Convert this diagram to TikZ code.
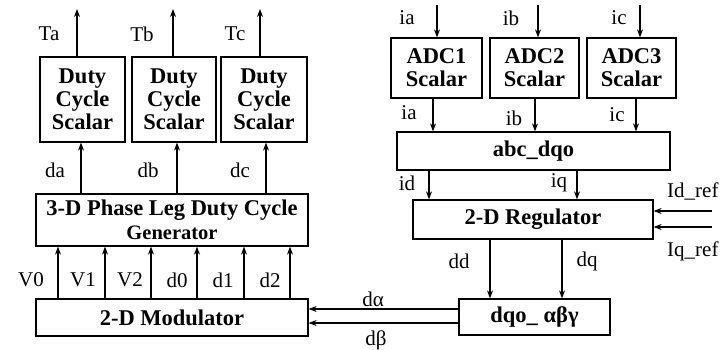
\documentclass[tikz,border=0pt]{standalone}
\usepackage{fontspec}
\setmainfont{Liberation Serif}
\usetikzlibrary{arrows.meta}
\begin{document}
\begin{tikzpicture}[x=1pt,y=-1pt,
  box/.style={draw,line width=1.3pt,inner sep=0pt,align=center,font=\bfseries\fontsize{22.5}{23}\selectfont},
  lbl/.style={font=\fontsize{21}{22}\selectfont,inner sep=0pt},
  arr/.style={line width=1.1pt,-{Stealth[length=8pt,width=6pt]}}]
\useasboundingbox (0,0) rectangle (728,349);
% boxes
\node[box,minimum width=85pt,minimum height=85pt] (d1) at (82.5,99.5) {Duty\\Cycle\\Scalar};
\node[box,minimum width=84pt,minimum height=85pt] (d2) at (174,99.5) {Duty\\Cycle\\Scalar};
\node[box,minimum width=86pt,minimum height=85pt] (d3) at (264,99.5) {Duty\\Cycle\\Scalar};
\node[box,minimum width=272pt,minimum height=52pt] (gen) at (172,220) {3-D Phase Leg Duty Cycle\\[1pt]{\fontsize{20.5}{22}\selectfont Generator}};
\node[box,minimum width=272pt,minimum height=37pt] (mod) at (172,317.5) {2-D Modulator};
\node[box,minimum width=151pt,minimum height=36pt] (dqo) at (534.5,317) {dqo\_ αβγ};
\node[box,minimum width=240pt,minimum height=39pt] (reg) at (533,219.5) {2-D Regulator};
\node[box,minimum width=273pt,minimum height=38pt] (abc) at (533.5,151) {abc\_dqo};
\node[box,minimum width=91pt,minimum height=60pt] (a1) at (436.5,68) {ADC1\\Scalar};
\node[box,minimum width=89pt,minimum height=60pt] (a2) at (534.5,68) {ADC2\\Scalar};
\node[box,minimum width=89pt,minimum height=60pt] (a3) at (631.5,68) {ADC3\\Scalar};
% free ends
\coordinate (ta) at (77,9);
\coordinate (tb) at (173,9);
\coordinate (tc) at (260,9);
\coordinate (iaa) at (437,5);
\coordinate (ibb) at (538,5);
\coordinate (icc) at (640,5);
\coordinate (idr) at (712,211);
\coordinate (iqr) at (712,227);
% outputs T
\draw[arr] (d1.north -| ta) -- (ta);
\draw[arr] (d2.north -| tb) -- (tb);
\draw[arr] (d3.north -| tc) -- (tc);
\node[lbl] at (49,34) {Ta};
\node[lbl] at (142,34) {Tb};
\node[lbl] at (235,34) {Tc};
% gen -> duty
\draw[arr] (gen.north -| 81,0) -- (d1.south -| 81,0);
\draw[arr] (gen.north -| 177,0) -- (d2.south -| 177,0);
\draw[arr] (gen.north -| 266,0) -- (d3.south -| 266,0);
\node[lbl] at (55,170) {da};
\node[lbl] at (148,170) {db};
\node[lbl] at (240,170) {dc};
% mod -> gen
\foreach \x in {58,105,151,197,244,290}{
  \draw[arr] (mod.north -| \x,0) -- (gen.south -| \x,0);
}
\node[lbl] at (31,280) {V0};
\node[lbl] at (83,280) {V1};
\node[lbl] at (130,280) {V2};
\node[lbl] at (177,280) {d0};
\node[lbl] at (223,280) {d1};
\node[lbl] at (270,280) {d2};
% dqo -> mod
\draw[arr] (dqo.west |- 0,309) -- (mod.east |- 0,309);
\draw[arr] (dqo.west |- 0,323) -- (mod.east |- 0,323);
\node[lbl] at (373,299) {dα};
\node[lbl] at (376,340) {dβ};
% reg -> dqo
\draw[arr] (reg.south -| 490,0) -- (dqo.north -| 490,0);
\draw[arr] (reg.south -| 562,0) -- (dqo.north -| 562,0);
\node[lbl] at (459,261) {dd};
\node[lbl] at (587,261) {dq};
% refs
\draw[arr] (idr) -- (reg.east |- idr);
\draw[arr] (iqr) -- (reg.east |- iqr);
\node[lbl,anchor=west] at (667,191) {Id\_ref};
\node[lbl,anchor=west] at (667,251) {Iq\_ref};
% abc -> reg
\draw[arr] (abc.south -| 429,0) -- (reg.north -| 429,0);
\draw[arr] (abc.south -| 577,0) -- (reg.north -| 577,0);
\node[lbl] at (407,183) {id};
\node[lbl] at (559,183) {iq};
% adc inputs
\draw[arr] (iaa) -- (a1.north -| iaa);
\draw[arr] (ibb) -- (a2.north -| ibb);
\draw[arr] (icc) -- (a3.north -| icc);
\node[lbl] at (407,18) {ia};
\node[lbl] at (511,18) {ib};
\node[lbl] at (619,18) {ic};
% adc -> abc
\draw[arr] (a1.south -| 433,0) -- (abc.north -| 433,0);
\draw[arr] (a2.south -| 535,0) -- (abc.north -| 535,0);
\draw[arr] (a3.south -| 636,0) -- (abc.north -| 636,0);
\node[lbl] at (409,113) {ia};
\node[lbl] at (514,118) {ib};
\node[lbl] at (617,115) {ic};
\end{tikzpicture}
\end{document}
